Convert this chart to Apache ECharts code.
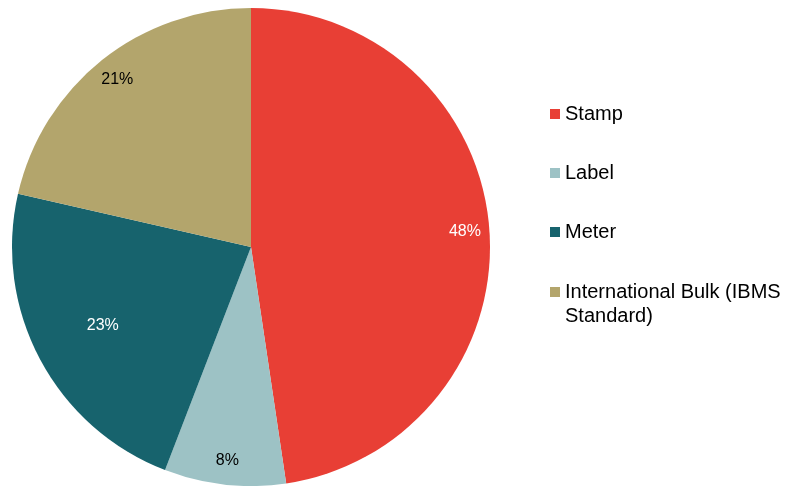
<!DOCTYPE html>
<html><head><meta charset="utf-8">
<script src="https://cdn.jsdelivr.net/npm/echarts@6/dist/echarts.min.js"></script>
<style>html,body{margin:0;padding:0;background:#fff}#c{width:792px;height:486px}</style>
</head><body><div id="c"></div>
<script>
const categories = ['Stamp', 'Label', 'Meter', 'International Bulk (IBMS Standard)'];
const values = [47.6, 8.2, 22.7, 21.4];
const colors = ['#E83F35', '#9DC2C5', '#17636D', '#B3A56C'];
const labelColors = ['#ffffff', '#000000', '#ffffff', '#000000'];

const R = 239;
const font = '"Liberation Sans", Arial, sans-serif';
const data = categories.map((n, i) => ({ name: n, value: values[i], itemStyle: { color: colors[i] } }));
const fmt = p => Math.round(p.percent) + '%';
const legendBase = {
  orient: 'vertical', left: 545, itemWidth: 10, itemHeight: 10, itemGap: 39, itemTextGap: 6, icon: 'rect',
  textStyle: { fontFamily: font, fontSize: 20, color: '#000' }
};

const chart = echarts.init(document.getElementById('c'));
chart.setOption({
  animation: false,
  legend: [
    Object.assign({}, legendBase, { top: 99, data: categories.slice(0, 3) }),
    Object.assign({}, legendBase, {
      top: 251,
      formatter: () => '\nInternational Bulk (IBMS\nStandard)',
      data: [{ name: categories[3], textStyle: { lineHeight: 24 } }]
    })
  ],
  series: [
    {
      type: 'pie', center: [251, 247], radius: R, startAngle: 90, clockwise: true,
      data: data, label: { show: false }, labelLine: { show: false }, silent: true
    },
    {
      type: 'pie', center: [251, 247], radius: [R * 0.77, R], startAngle: 90, clockwise: true, silent: true,
      data: categories.map((n, i) => ({ name: n, value: values[i], itemStyle: { color: 'rgba(0,0,0,0)' },
        label: { show: i !== 2, color: labelColors[i] } })),
      label: { position: 'inside', formatter: fmt, fontFamily: font, fontSize: 16 },
      labelLine: { show: false }
    },
    {
      type: 'pie', center: [251, 247], radius: [R * 0.38, R], startAngle: 90, clockwise: true, silent: true,
      data: categories.map((n, i) => ({ name: n, value: values[i], itemStyle: { color: 'rgba(0,0,0,0)' },
        label: { show: i === 2, color: labelColors[i] } })),
      label: { position: 'inside', formatter: fmt, fontFamily: font, fontSize: 16 },
      labelLine: { show: false }
    }
  ]
});
</script></body></html>
